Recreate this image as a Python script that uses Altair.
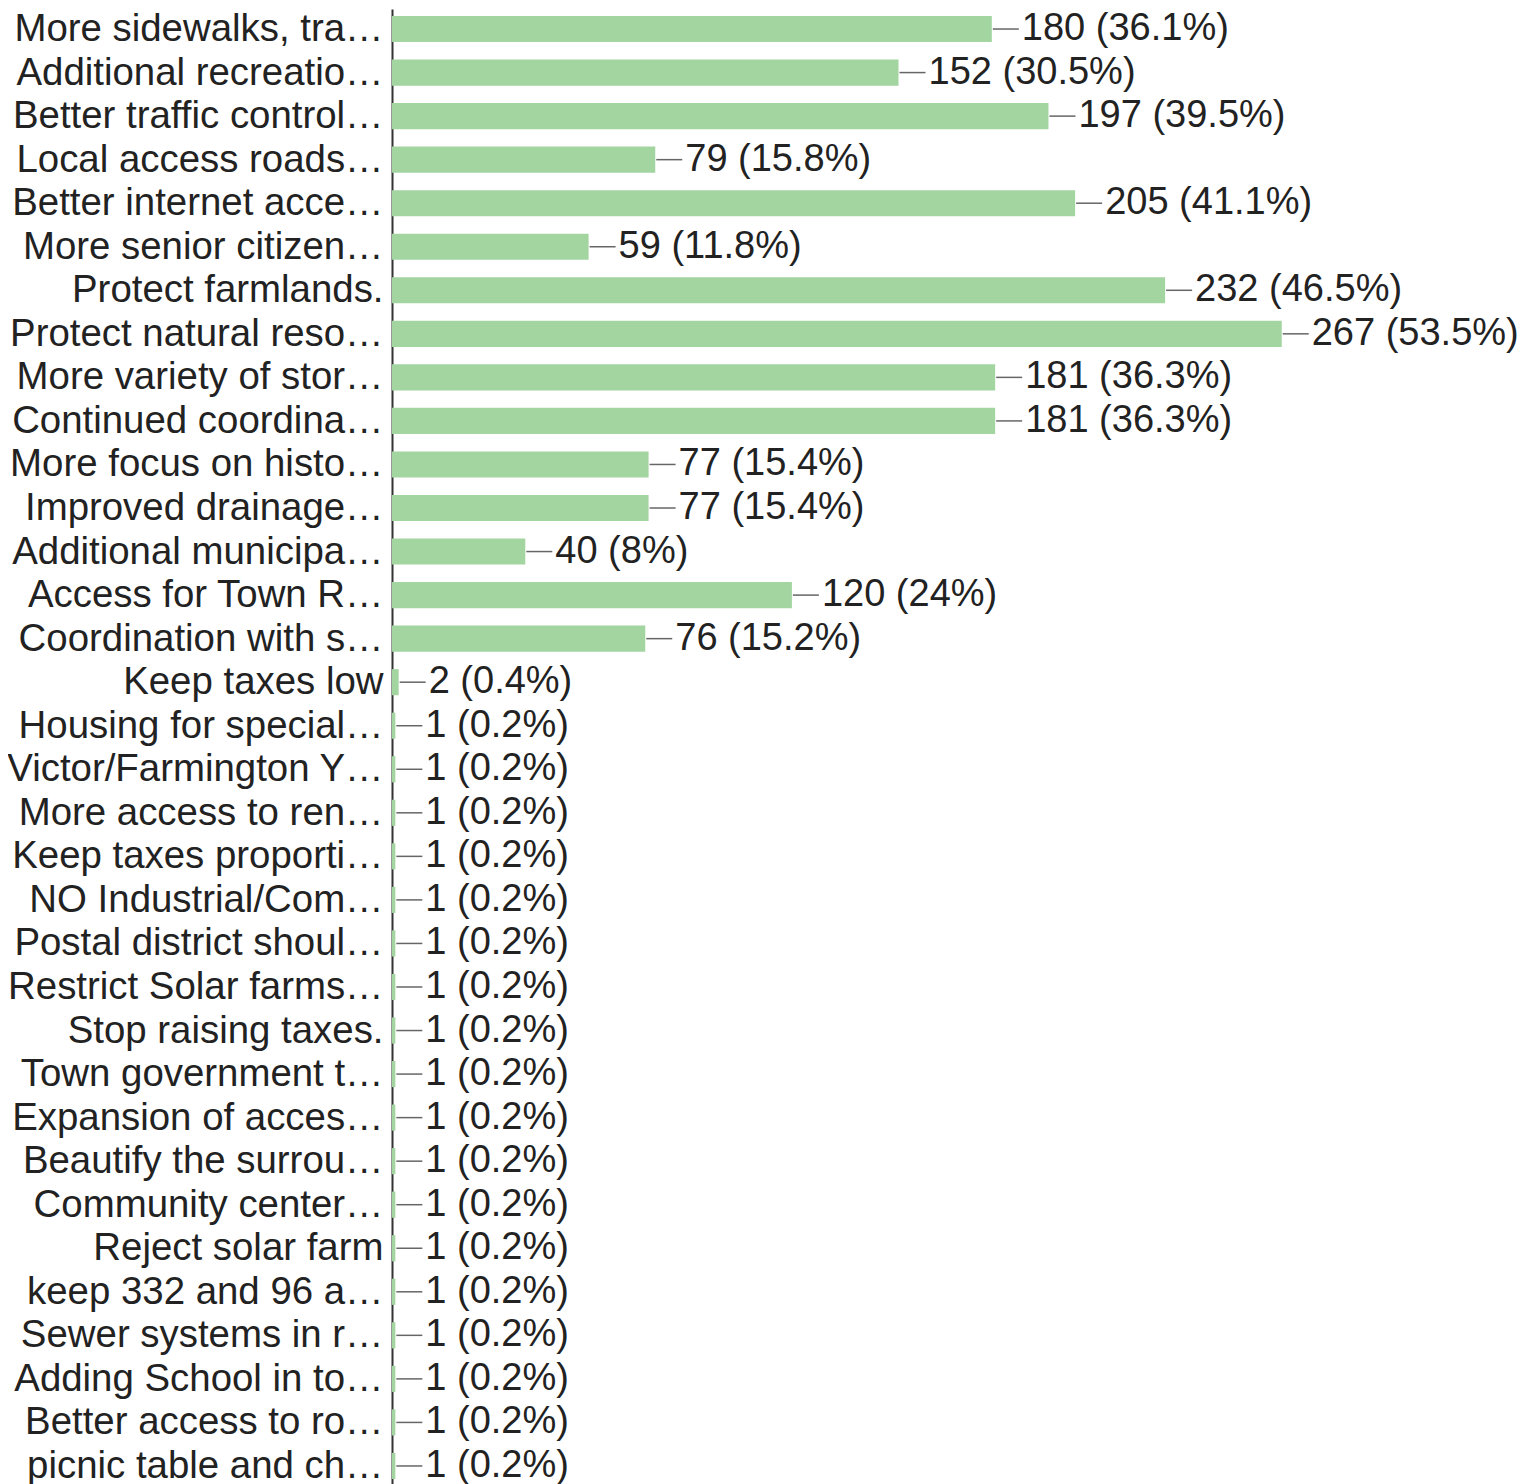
import altair as alt
import pandas as pd

categories = [
    "More sidewalks, tra…",
    "Additional recreatio…",
    "Better traffic control…",
    "Local access roads…",
    "Better internet acce…",
    "More senior citizen…",
    "Protect farmlands.",
    "Protect natural reso…",
    "More variety of stor…",
    "Continued coordina…",
    "More focus on histo…",
    "Improved drainage…",
    "Additional municipa…",
    "Access for Town R…",
    "Coordination with s…",
    "Keep taxes low",
    "Housing for special…",
    "Victor/Farmington Y…",
    "More access to ren…",
    "Keep taxes proporti…",
    "NO Industrial/Com…",
    "Postal district shoul…",
    "Restrict Solar farms…",
    "Stop raising taxes.",
    "Town government t…",
    "Expansion of acces…",
    "Beautify the surrou…",
    "Community center…",
    "Reject solar farm",
    "keep 332 and 96 a…",
    "Sewer systems in r…",
    "Adding School in to…",
    "Better access to ro…",
    "picnic table and ch…",
]
counts = [180, 152, 197, 79, 205, 59, 232, 267, 181, 181, 77, 77, 40, 120, 76,
          2, 1, 1, 1, 1, 1, 1, 1, 1, 1, 1, 1, 1, 1, 1, 1, 1, 1, 1]
percents = ["36.1%", "30.5%", "39.5%", "15.8%", "41.1%", "11.8%", "46.5%", "53.5%",
            "36.3%", "36.3%", "15.4%", "15.4%", "8%", "24%", "15.2%",
            "0.4%", "0.2%", "0.2%", "0.2%", "0.2%", "0.2%", "0.2%", "0.2%", "0.2%",
            "0.2%", "0.2%", "0.2%", "0.2%", "0.2%", "0.2%", "0.2%", "0.2%", "0.2%", "0.2%"]

df = pd.DataFrame({"category": categories, "count": counts, "pct": percents})
df["label"] = df["count"].astype(str) + " (" + df["pct"] + ")"

FONT = "Liberation Sans"

y_enc = alt.Y(
    "category:N",
    sort=categories,
    scale=alt.Scale(paddingInner=0.4, paddingOuter=0.16),
    axis=alt.Axis(
        title=None,
        ticks=False,
        grid=False,
        domain=True,
        domainColor="#333333",
        domainWidth=2,
        labelFont=FONT,
        labelFontSize=38.4,
        labelColor="#222222",
        labelLimit=1000,
        labelPadding=9,
    ),
)
x_enc = alt.X("count:Q", scale=alt.Scale(domain=[0, 341.5], nice=False, zero=True), axis=None)

base = alt.Chart(df)

bars = base.mark_bar(color="#a3d5a0").encode(x=x_enc, y=y_enc)

leaders = base.mark_rule(color="#666666", strokeWidth=1.5, xOffset=1, x2Offset=27).encode(
    x=x_enc, x2="count:Q", y=y_enc
)

labels = base.mark_text(
    align="left", baseline="middle", dx=30, font=FONT, fontSize=38, color="#222222"
).encode(x=x_enc, y=y_enc, text="label:N")

chart = (
    alt.layer(bars, leaders, labels)
    .properties(
        width=1138,
        height=1477,
        autosize=alt.AutoSizeParams(type="none"),
        padding={"left": 384, "top": 1, "right": 0, "bottom": 0},
        background="white",
    )
    .configure_view(stroke=None)
)

chart.save("out.html", embed_options={"renderer": "svg", "actions": False})
